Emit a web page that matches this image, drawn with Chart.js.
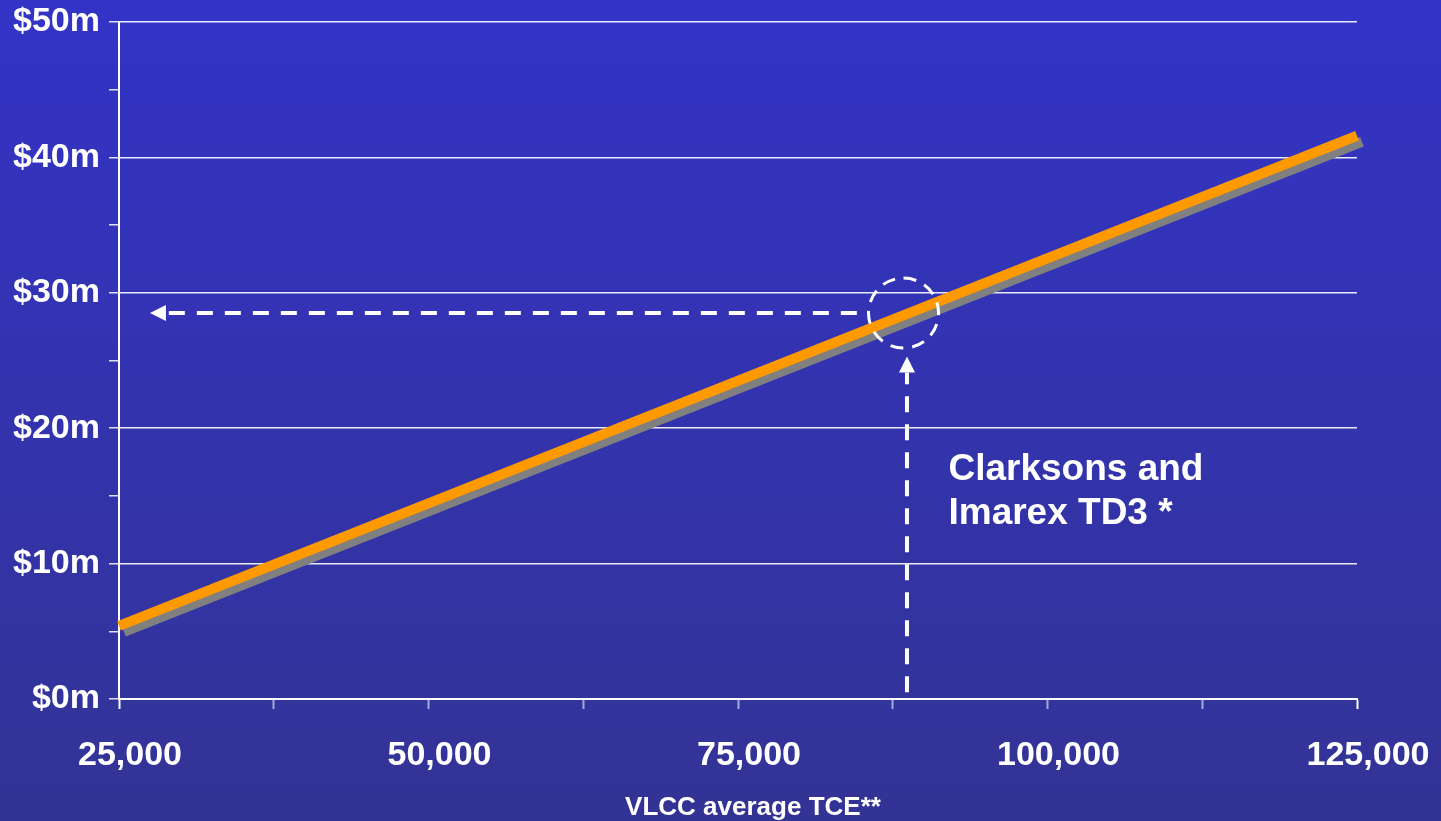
<!DOCTYPE html>
<html>
<head>
<meta charset="utf-8">
<script src="https://cdn.jsdelivr.net/npm/chart.js@4.4.1/dist/chart.umd.min.js"></script>
<style>
  html, body { margin: 0; padding: 0; overflow: hidden; background: #333399; }
  canvas { display: block; }
</style>
</head>
<body>
<canvas id="tceChart" width="1441" height="821"></canvas>
<script>
// data
const tceValues = [25000, 125000];
const valueMillions = [5.4, 41.6];
const xTickValues = [25000, 50000, 75000, 100000, 125000];
const xTickLabels = ['25,000', '50,000', '75,000', '100,000', '125,000'];
const yTickValues = [0, 10, 20, 30, 40, 50];
const yTickLabels = ['$0m', '$10m', '$20m', '$30m', '$40m', '$50m'];
const xTitle = 'VLCC average TCE**';

// annotation (arrows, circle, note)
const hArrowX = [84600, 27500];   // start, tip
const hArrowY = [28.5, 28.5];
const vArrowX = [88650, 88650];
const vArrowY = [0.5, 25.3];      // start, tip
const circleAt = [88370, 28.5];
const noteLines = ['Clarksons and', 'Imarex TD3 *'];
const noteAt = [92000, 16.2];

const FONT = '"Liberation Sans", Arial, sans-serif';
const gridColor = 'rgba(255,255,255,0.9)';

const bgPlugin = {
  id: 'bg',
  beforeDraw(chart) {
    const c = chart.ctx;
    const g = c.createLinearGradient(0, 0, 0, chart.height);
    g.addColorStop(0, '#3333c7');
    g.addColorStop(1, '#333395');
    c.save();
    c.fillStyle = g;
    c.fillRect(0, 0, chart.width, chart.height);
    c.restore();
  }
};

const shadowPlugin = {
  id: 'lineShadow',
  beforeDatasetDraw(chart, args) {
    const c = chart.ctx;
    c.save();
    c.shadowColor = '#808080';
    c.shadowBlur = 0;
    c.shadowOffsetX = 5;
    c.shadowOffsetY = 6;
  },
  afterDatasetDraw(chart) {
    chart.ctx.restore();
  }
};

function arrow(c, x0, y0, x1, y1) {
  const ang = Math.atan2(y1 - y0, x1 - x0);
  const headLen = 16, headW = 8;
  const bx = x1 - Math.cos(ang) * headLen;
  const by = y1 - Math.sin(ang) * headLen;
  c.setLineDash([16, 12]);
  c.beginPath();
  c.moveTo(x0, y0);
  c.lineTo(bx, by);
  c.stroke();
  c.setLineDash([]);
  c.beginPath();
  c.moveTo(x1, y1);
  c.lineTo(bx - Math.sin(ang) * headW, by + Math.cos(ang) * headW);
  c.lineTo(bx + Math.sin(ang) * headW, by - Math.cos(ang) * headW);
  c.closePath();
  c.fill();
}

const notePlugin = {
  id: 'note',
  afterDatasetsDraw(chart) {
    const c = chart.ctx;
    const x = chart.scales.x, y = chart.scales.y;
    c.save();
    c.strokeStyle = '#ffffff';
    c.fillStyle = '#ffffff';
    c.lineWidth = 4;
    arrow(c, x.getPixelForValue(hArrowX[0]), y.getPixelForValue(hArrowY[0]),
             x.getPixelForValue(hArrowX[1]), y.getPixelForValue(hArrowY[1]));
    arrow(c, x.getPixelForValue(vArrowX[0]), y.getPixelForValue(vArrowY[0]),
             x.getPixelForValue(vArrowX[1]), y.getPixelForValue(vArrowY[1]));

    c.lineWidth = 3;
    c.setLineDash([13, 9]);
    c.beginPath();
    c.arc(x.getPixelForValue(circleAt[0]), y.getPixelForValue(circleAt[1]), 35, -Math.PI / 2, Math.PI * 1.5);
    c.stroke();
    c.setLineDash([]);

    c.font = 'bold 37px ' + FONT;
    c.textAlign = 'left';
    c.textBaseline = 'alphabetic';
    const tx = x.getPixelForValue(noteAt[0]);
    const ty = y.getPixelForValue(noteAt[1]);
    noteLines.forEach((t, i) => c.fillText(t, tx, ty + i * 44));

    // axis title, sits a little right of the plot centre
    c.font = 'bold 26px ' + FONT;
    c.textAlign = 'center';
    c.fillText(xTitle, (chart.chartArea.left + chart.chartArea.right) / 2 + 15, 815);
    c.restore();
  }
};

const ctx = document.getElementById('tceChart').getContext('2d');
new Chart(ctx, {
  type: 'line',
  data: {
    datasets: [{
      data: tceValues.map((v, i) => ({ x: v, y: valueMillions[i] })),
      borderColor: '#ff9900',
      borderWidth: 10,
      borderCapStyle: 'butt',
      pointRadius: 0,
      tension: 0,
      clip: false
    }]
  },
  options: {
    responsive: false,
    animation: false,
    devicePixelRatio: 1,
    layout: { padding: { left: 0, right: 84, top: 22, bottom: 0 } },
    plugins: { legend: { display: false }, tooltip: { enabled: false } },
    scales: {
      x: {
        type: 'linear',
        min: 25000,
        max: 125000,
        afterFit: s => {
          s.height = 122;
          s.paddingLeft = 0;
          s.paddingRight = 0;
        },
        afterBuildTicks: s => {
          s.ticks = [];
          for (let v = 25000; v <= 125000; v += 12500) s.ticks.push({ value: v });
        },
        border: { color: '#ffffff', width: 2 },
        grid: {
          drawOnChartArea: false,
          drawTicks: true,
          tickLength: 10,
          tickColor: c => (c.tick && (c.tick.value === 25000 || c.tick.value === 125000)) ? '#ffffff' : '#a8a8d8',
          tickWidth: 2
        },
        ticks: {
          autoSkip: false,
          maxRotation: 0,
          padding: 26,
          labelOffset: 11,
          color: '#ffffff',
          font: { family: FONT, size: 34, weight: 'bold' },
          callback: v => {
            const i = xTickValues.indexOf(v);
            return i >= 0 ? xTickLabels[i] : '';
          }
        }
      },
      y: {
        min: 0,
        max: 50,
        afterFit: s => {
          s.width = 119;
          s.paddingTop = 0;
          s.paddingBottom = 0;
        },
        afterBuildTicks: s => {
          s.ticks = [];
          for (let v = 0; v <= 50; v += 5) s.ticks.push({ value: v });
        },
        border: { color: '#ffffff', width: 2 },
        grid: {
          color: c => (c.tick && yTickValues.includes(c.tick.value)) ? gridColor : 'rgba(0,0,0,0)',
          lineWidth: 1.5,
          tickLength: 10,
          tickColor: '#e0e0f0'
        },
        ticks: {
          autoSkip: false,
          padding: 9,
          color: '#ffffff',
          font: { family: FONT, size: 34, weight: 'bold' },
          callback: v => {
            const i = yTickValues.indexOf(v);
            return i >= 0 ? yTickLabels[i] : '';
          }
        }
      }
    }
  },
  plugins: [bgPlugin, shadowPlugin, notePlugin]
});
</script>
</body>
</html>
